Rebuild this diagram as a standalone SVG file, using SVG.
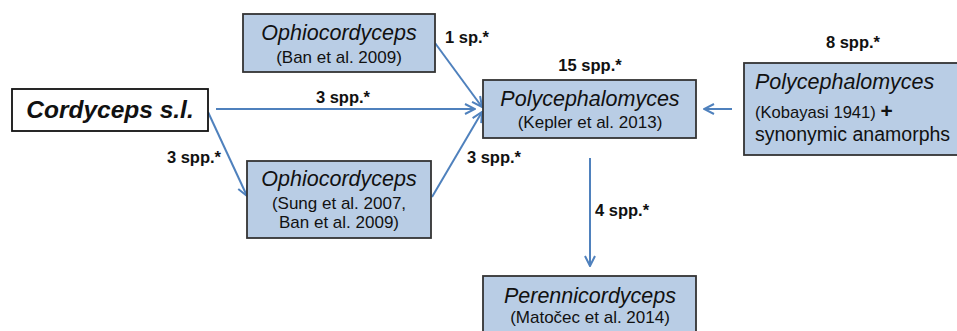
<svg xmlns="http://www.w3.org/2000/svg" width="957" height="331" viewBox="0 0 957 331">
<style>
.box{fill:#b9cde5;stroke:#333;stroke-width:1.8}
.wbox{fill:#fff;stroke:#111;stroke-width:1.8}
.t{font-family:"Liberation Sans",Arial,sans-serif;fill:#111}
.sp{font-style:italic;font-size:21.5px}
.ref{font-size:17px}
.lbl{font-weight:bold;font-size:16.5px}
.edge{stroke:#4f81bd;stroke-width:2;fill:none;marker-end:url(#ah)}
</style>
<defs>
<marker id="ah" viewBox="0 0 12 12" refX="11" refY="6" markerWidth="12" markerHeight="12" markerUnits="userSpaceOnUse" orient="auto">
<path d="M1,1 L11,6 L1,11" fill="none" stroke="#4f81bd" stroke-width="2"/>
</marker>
</defs>
<rect width="957" height="331" fill="#fff"/>
<g id="connectors">
<line class="edge" x1="216" y1="109" x2="475" y2="109"/>
<line class="edge" x1="435" y1="43" x2="482" y2="107"/>
<line class="edge" x1="432" y1="197" x2="482" y2="112"/>
<line class="edge" x1="208" y1="112" x2="247" y2="196"/>
<line class="edge" x1="732" y1="109" x2="704" y2="109"/>
<line class="edge" x1="590" y1="158" x2="590" y2="266"/>
<text class="t lbl" x="343" y="103" text-anchor="middle">3 spp.*</text>
<text class="t lbl" x="445" y="43">1 sp.*</text>
<text class="t lbl" x="194" y="163" text-anchor="middle">3 spp.*</text>
<text class="t lbl" x="494" y="163" text-anchor="middle">3 spp.*</text>
<text class="t lbl" x="595" y="216">4 spp.*</text>
<text class="t lbl" x="590" y="71" text-anchor="middle">15 spp.*</text>
<text class="t lbl" x="853" y="48" text-anchor="middle">8 spp.*</text>
</g>
<g id="cordyceps">
<rect class="wbox" x="12" y="89" width="196" height="42"/>
<text class="t" x="110" y="118" text-anchor="middle" font-weight="bold" font-style="italic" font-size="24.5">Cordyceps s.l.</text>
</g>
<g id="ophio-ban">
<rect class="box" x="243" y="14" width="192" height="58"/>
<text class="t sp" x="339" y="40" text-anchor="middle">Ophiocordyceps</text>
<text class="t ref" x="339" y="63" text-anchor="middle">(Ban et al. 2009)</text>
</g>
<g id="ophio-sung">
<rect class="box" x="247" y="161" width="184" height="77"/>
<text class="t sp" x="339" y="186" text-anchor="middle">Ophiocordyceps</text>
<text class="t ref" x="339" y="209" text-anchor="middle">(Sung et al. 2007,</text>
<text class="t ref" x="339" y="228" text-anchor="middle">Ban et al. 2009)</text>
</g>
<g id="poly-kepler">
<rect class="box" x="483" y="80" width="213" height="58"/>
<text class="t sp" x="590" y="106" text-anchor="middle">Polycephalomyces</text>
<text class="t ref" x="590" y="128" text-anchor="middle">(Kepler et al. 2013)</text>
</g>
<g id="poly-kobayasi">
<rect class="box" x="744" y="63" width="220" height="92"/>
<text class="t sp" x="755" y="89">Polycephalomyces</text>
<text class="t" x="755" y="118" font-size="16.6">(Kobayasi 1941) <tspan font-weight="bold" font-size="21">+</tspan></text>
<text class="t" x="755" y="141" font-size="19.5">synonymic anamorphs</text>
</g>
<g id="perenni">
<rect class="box" x="483" y="276" width="213" height="70"/>
<text class="t sp" x="590" y="303" text-anchor="middle">Perennicordyceps</text>
<text class="t ref" x="590" y="323" text-anchor="middle">(Matočec et al. 2014)</text>
</g>
</svg>
